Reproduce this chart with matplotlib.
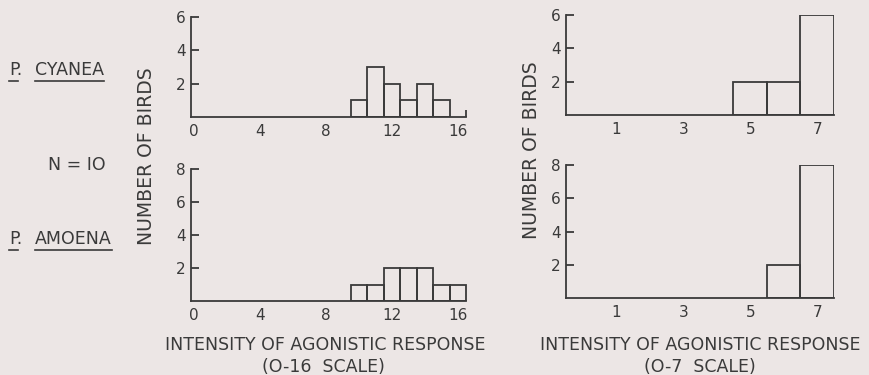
import matplotlib
matplotlib.use('Agg')
import matplotlib.pyplot as plt
from matplotlib.lines import Line2D

# 得点ごとの個体数 (N = 10)
scores_16 = list(range(0, 17))
cyanea_16 = [0, 0, 0, 0, 0, 0, 0, 0, 0, 0, 1, 3, 2, 1, 2, 1, 0]
amoena_16 = [0, 0, 0, 0, 0, 0, 0, 0, 0, 0, 1, 1, 2, 2, 2, 1, 1]

scores_7 = list(range(1, 8))
cyanea_7 = [0, 0, 0, 0, 2, 2, 6]
amoena_7 = [0, 0, 0, 0, 0, 2, 8]

xticks_16 = [0, 4, 8, 12, 16]
xticks_7 = [1, 3, 5, 7]

ink = '#3a3a3a'
bg = '#ece6e5'
plt.rcParams['font.family'] = ['DejaVu Sans']

fig = plt.figure(figsize=(8.7, 3.75), dpi=100)
fig.patch.set_facecolor(bg)

W, H = 870, 375


def make_ax(x0, x1, ytop, ybot):
    return fig.add_axes([x0 / W, 1 - ybot / H, (x1 - x0) / W, (ybot - ytop) / H])


def draw_panel(ax, scores, counts, xlim, ymax, xticks, end_tick=False):
    ax.set_facecolor('none')
    xs = [s for s, c in zip(scores, counts) if c > 0]
    hs = [c for c in counts if c > 0]
    ax.bar(xs, hs, width=1.0, fill=False, edgecolor=ink, linewidth=1.3)
    ax.set_xlim(*xlim)
    ax.set_ylim(0, ymax)
    for s in ['top', 'right']:
        ax.spines[s].set_visible(False)
    for s in ['left', 'bottom']:
        ax.spines[s].set_color(ink)
        ax.spines[s].set_linewidth(1.3)
    ax.spines['bottom'].set_bounds(xlim[0], scores[-1] + 0.5)
    ax.set_yticks(list(range(2, ymax + 1, 2)))
    ax.set_xticks(xticks)
    ax.tick_params(axis='y', direction='in', length=6, width=1.3, color=ink,
                   labelsize=11, labelcolor=ink, pad=4)
    ax.tick_params(axis='x', length=0, labelsize=11, labelcolor=ink, pad=5)
    if end_tick:
        ax.set_xticks([scores[-1] + 0.5], minor=True)
        ax.tick_params(axis='x', which='minor', direction='in', length=5,
                       width=1.3, color=ink)


ax1 = make_ax(191, 468, 17, 117)
draw_panel(ax1, scores_16, cyanea_16, (-0.15, 16.6), 6, xticks_16, end_tick=True)
ax2 = make_ax(191, 468, 169, 301)
draw_panel(ax2, scores_16, amoena_16, (-0.15, 16.6), 8, xticks_16)
ax3 = make_ax(566, 834, 15, 115)
draw_panel(ax3, scores_7, cyanea_7, (-0.5, 7.5), 6, xticks_7)
ax4 = make_ax(566, 834, 165, 298)
draw_panel(ax4, scores_7, amoena_7, (-0.5, 7.5), 8, xticks_7)

tkw = dict(color=ink, fontsize=12.5)
fig.text(147 / W, 1 - 156 / H, 'NUMBER OF BIRDS', rotation=90, ha='center', va='center',
         color=ink, fontsize=13.5)
fig.text(532 / W, 1 - 150 / H, 'NUMBER OF BIRDS', rotation=90, ha='center', va='center',
         color=ink, fontsize=13.5)
fig.text(325 / W, 1 - 345 / H, 'INTENSITY OF AGONISTIC RESPONSE', ha='center', va='center', **tkw)
fig.text(323 / W, 1 - 367 / H, '(O-16  SCALE)', ha='center', va='center', **tkw)
fig.text(700 / W, 1 - 345 / H, 'INTENSITY OF AGONISTIC RESPONSE', ha='center', va='center', **tkw)
fig.text(700 / W, 1 - 367 / H, '(O-7  SCALE)', ha='center', va='center', **tkw)
fig.text(77 / W, 1 - 165 / H, 'N = IO', ha='center', va='center', **tkw)

# 種名 (下線付き)
names = []
for y, genus, sp in [(70, 'P.', 'CYANEA'), (239, 'P.', 'AMOENA')]:
    t1 = fig.text(9 / W, 1 - y / H, genus, ha='left', va='center', **tkw)
    t2 = fig.text(35 / W, 1 - y / H, sp, ha='left', va='center', **tkw)
    names += [t1, t2]

fig.canvas.draw()
r = fig.canvas.get_renderer()
for t in names:
    bb = t.get_window_extent(r)
    yl = bb.y0 - 2
    x1 = bb.x1 if t.get_text() != 'P.' else bb.x0 + 0.7 * bb.width
    fig.add_artist(Line2D([bb.x0 / W, x1 / W], [yl / H, yl / H], color=ink, lw=1.2))

fig.savefig('out.png', dpi=100, facecolor=bg)
